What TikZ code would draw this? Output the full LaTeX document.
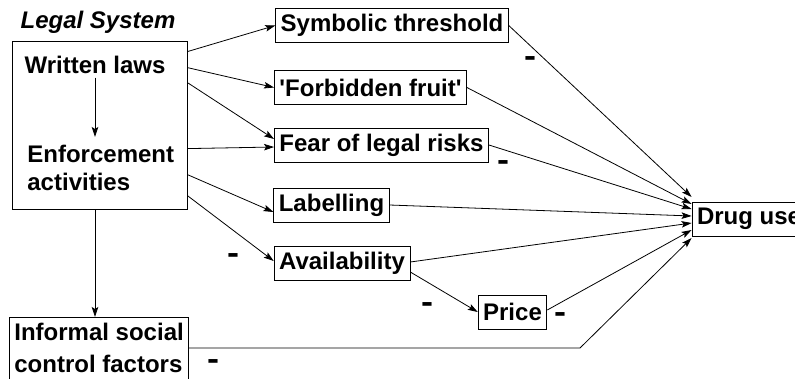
\documentclass[tikz,border=0pt]{standalone}
\usepackage{fontspec}
\usepackage{graphicx}
\setmainfont{Liberation Sans}
\usetikzlibrary{arrows.meta}

\tikzset{
  box/.style={draw, line width=0.8pt, minimum height=34pt, inner xsep=5pt, inner ysep=3pt},
  minus/.style={inner sep=0pt},
}
\newcommand{\negsign}{\scalebox{1.5}[1.3]{-}}

\begin{document}
\begin{tikzpicture}[x=1pt, y=-1pt, line width=0.8pt,
    font=\fontsize{24}{28}\selectfont\bfseries,
    >={Stealth[length=10pt, width=6.5pt, inset=2pt]}]
		\useasboundingbox (0,0) rectangle (795,378);
		% Legal system
		\node[draw, minimum width=175pt, minimum height=168pt, inner sep=0pt] (legal) at (99.5,125) {};
		\node (title) at (98,22) {\itshape Legal System};
		\node (laws) at (95,65) {Written laws};
		\node[align=left, anchor=north west, inner sep=0pt] (enf) at (27,145) {Enforcement\\activities};
		\draw[->] (laws.south) -- ([yshift=8pt]laws.south |- enf.north);
		% Mechanisms
		\node[box] (symb) at (392,25.5) {Symbolic threshold};
		\node[box] (forb) at (370.5,87.5) {\textquotesingle Forbidden fruit\textquotesingle};
		\node[box] (fear) at (381.5,145) {Fear of legal risks};
		\node[box] (lab) at (331.5,205) {Labelling};
		\node[box] (avail) at (342,263) {Availability};
		\node[box] (price) at (512.5,312) {Price};
		\node[box] (drug) at (749,219) {Drug use};
		\node[box, align=left, anchor=north west, inner ysep=6pt] (informal) at (9,317) {Informal social\\[4pt]control factors};
		% Arrows out of the legal system
		\draw[->] ([yshift=-11pt]legal.north east) -- (symb.west);
		\draw[->] ([yshift=-27pt]legal.north east) -- (forb.west);
		\draw[->] ([yshift=-42pt]legal.north east) -- ([yshift=6pt]fear.west);
		\draw[->] ([yshift=-108pt]legal.north east) -- ([yshift=-2pt]fear.west);
		\draw[->] ([yshift=-134pt]legal.north east) -- ([yshift=-7pt]lab.west);
		\draw[->] ([yshift=-155pt]legal.north east) -- ([yshift=2pt]avail.west);
		\draw[->] (legal.south -| laws) -- (informal.north -| laws);
		\draw[->] ([yshift=-9pt]avail.east) -- (price.west);
		% Arrows into drug use
		\draw[->] (symb.east) -- ([yshift=22pt]drug.west);
		\draw[->] (forb.east) -- ([yshift=15pt]drug.west);
		\draw[->] (fear.east) -- ([yshift=10pt]drug.west);
		\draw[->] (lab.east) -- ([yshift=3pt]drug.west);
		\draw[->] ([yshift=1pt]avail.east) -- ([yshift=-4pt]drug.west);
		\draw[->] ([yshift=2pt]price.east) -- ([yshift=-11pt]drug.west);
		\coordinate (bend) at (580,348);
		\draw[->] (informal.east |- bend) -- (bend) -- ([yshift=-19pt]drug.west);
		% Negative signs
		\node[minus] (m1) at (530,62) {\negsign};
		\node[minus] (m2) at (503,166) {\negsign};
		\node[minus] (m3) at (233,259) {\negsign};
		\node[minus] (m4) at (427,308) {\negsign};
		\node[minus] (m5) at (560,318) {\negsign};
		\node[minus] (m6) at (213,365) {\negsign};
	\end{tikzpicture}
\end{document}
